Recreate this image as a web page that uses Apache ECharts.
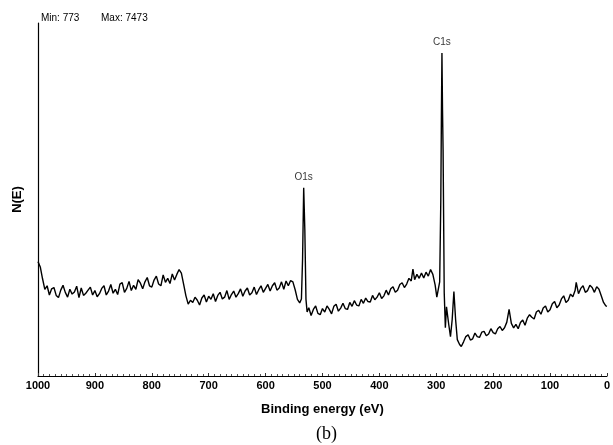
<!DOCTYPE html>
<html>
<head>
<meta charset="utf-8">
<script src="https://cdn.jsdelivr.net/npm/echarts@6/dist/echarts.min.js"></script>
<style>html,body{margin:0;padding:0;background:#fff;}#c{width:613px;height:445px;}</style>
</head>
<body>
<div id="c"></div>
<script>
const bindingEnergy = [
  1000,996,992,988,984,
  980,976,972,968,964,960,956,952,948,944,940,936,932,928,924,920,916,912,908,904,900,896,892,888,884,880,876,872,868,864,860,856,852,848,844,840,836,832,828,824,820,816,812,808,804,800,796,792,788,784,780,776,772,768,764,760,
  756,752,748,744,740,736,732,
  728,724,720,716,712,708,704,700,696,692,688,684,680,676,672,668,664,660,656,652,648,644,640,636,632,628,624,620,616,612,608,604,600,596,592,588,584,580,576,572,568,564,560,
  556,552,548,544,540,537,535,533,531,529,527,
  524,520,516,512,508,504,500,496,492,488,484,480,476,472,468,464,460,456,452,448,444,440,436,432,428,424,420,416,412,408,404,400,396,392,388,384,380,376,372,368,364,360,356,352,348,344,
  341,338,334,330,326,322,318,314,310,306,302,299,296,294,292,291,290,289,288,286,284,282,280,278,275,272,269,266,263,259,256,
  252,248,244,240,236,232,228,224,220,216,212,208,204,200,196,192,188,184,180,176,172,168,164,160,156,152,148,144,140,136,132,128,124,120,116,112,108,104,100,96,92,88,84,80,76,72,68,64,60,56,
  54,50,46,42,38,34,30,26,22,18,14,10,6,2,0
];
const counts = [
  2711,2590,2320,2080,2160,
  1950,2090,2120,1940,1890,2060,2170,2010,1900,2080,1970,2020,2150,1890,2110,1940,1990,2060,2130,1950,2050,1910,1980,2100,2160,1950,2040,2190,1990,2080,1960,2200,2230,2010,2100,2260,2050,2170,2080,2300,2220,2090,2250,2350,2160,2130,2290,2380,2200,2160,2410,2240,2330,2210,2430,2290,
  2420,2530,2450,2190,1930,1740,1830,
  1780,1900,1830,1720,1880,1950,1790,1920,1850,1980,1800,1940,2010,1860,1900,2050,1850,1960,2040,1900,1980,2090,1920,2040,2110,1950,2000,2130,1960,2070,2160,2010,2100,2190,2040,2160,2230,2060,2110,2250,2080,2270,2160,
  2280,2250,2070,1850,1770,1860,2760,4398,3440,1850,1560,
  1660,1480,1620,1700,1530,1500,1640,1560,1700,1620,1520,1690,1740,1580,1650,1760,1640,1620,1780,1690,1820,1720,1700,1850,1760,1880,1800,1790,1940,1840,1900,2000,1870,1930,2060,1950,2090,2140,2010,2060,2190,2230,2120,2200,2330,2270,
  2540,2300,2420,2330,2450,2340,2470,2380,2530,2420,2180,1900,1930,2250,4120,5950,7473,6180,5260,2000,1200,1680,1700,1270,1000,1390,2030,1390,930,820,773,
  880,1000,1040,920,950,1080,1000,980,1100,1120,1020,1060,1180,1090,1060,1180,1230,1140,1200,1330,1620,1300,1200,1280,1180,1320,1380,1260,1420,1500,1440,1400,1560,1600,1510,1650,1700,1560,1610,1750,1800,1660,1720,1860,1930,1780,1830,1970,1910,2050,
  2240,1980,2100,2160,2010,2050,2170,2120,2010,2140,2080,1930,1780,1700,1690
];
const peakNames = ['O1s', 'C1s'];
const peakEnergy = [533, 290];
const peakCounts = [4398, 7473];
const minText = 'Min: 773';
const maxText = 'Max: 7473';
const xTitle = 'Binding energy (eV)';
const yTitle = 'N(E)';
const caption = '(b)';

const chart = echarts.init(document.getElementById('c'), null, {renderer: 'canvas'});
const spectrum = bindingEnergy.map((e, i) => [e, counts[i]]);
const peaks = peakNames.map((n, i) => ({name: n, value: [peakEnergy[i], peakCounts[i]]}));
const smallText = {fontFamily: 'Liberation Sans', fontSize: 10, fontWeight: 500, color: '#000'};
chart.setOption({
  animation: false,
  backgroundColor: '#fff',
  title: [
    {text: minText, left: 36, top: 8, textStyle: smallText},
    {text: maxText, left: 96, top: 8, textStyle: smallText},
    {text: caption, left: 311, top: 420, textStyle: {fontFamily: 'Liberation Serif', fontSize: 18, fontWeight: 'normal', color: '#000'}}
  ],
  grid: {left: 38, right: 5, top: 23, bottom: 69, containLabel: false},
  xAxis: {
    type: 'value', inverse: true, min: 0, max: 1000, interval: 100,
    name: xTitle, nameLocation: 'middle', nameGap: 27,
    nameTextStyle: {fontFamily: 'Liberation Sans', fontSize: 13, fontWeight: 'bold', color: '#000'},
    axisLine: {onZero: false, lineStyle: {color: '#000', width: 1.2}},
    axisTick: {show: true, inside: true, length: 3, lineStyle: {color: '#333'}},
    minorTick: {show: true, splitNumber: 10, length: 2, lineStyle: {color: '#555'}},
    axisLabel: {fontFamily: 'Liberation Sans', fontSize: 11, fontWeight: 'bold', color: '#000', margin: 4, formatter: v => String(v)},
    splitLine: {show: false}
  },
  yAxis: {
    type: 'value', min: 100, max: 8160, position: 'left',
    name: yTitle, nameLocation: 'middle', nameGap: 14, nameRotate: 90,
    nameTextStyle: {fontFamily: 'Liberation Sans', fontSize: 13, fontWeight: 'bold', color: '#000'},
    axisLine: {show: true, onZero: false, lineStyle: {color: '#000', width: 1.2}},
    axisTick: {show: false},
    axisLabel: {show: false},
    splitLine: {show: false}
  },
  series: [
    {
      type: 'line', data: spectrum, showSymbol: false, symbol: 'none',
      lineStyle: {color: '#000', width: 1.4}, silent: true
    },
    {
      type: 'scatter', data: peaks, symbolSize: 0,
      label: Object.assign({show: true, position: 'top', distance: 6, formatter: p => p.name}, smallText),
      silent: true
    }
  ]
});
</script>
</body>
</html>
